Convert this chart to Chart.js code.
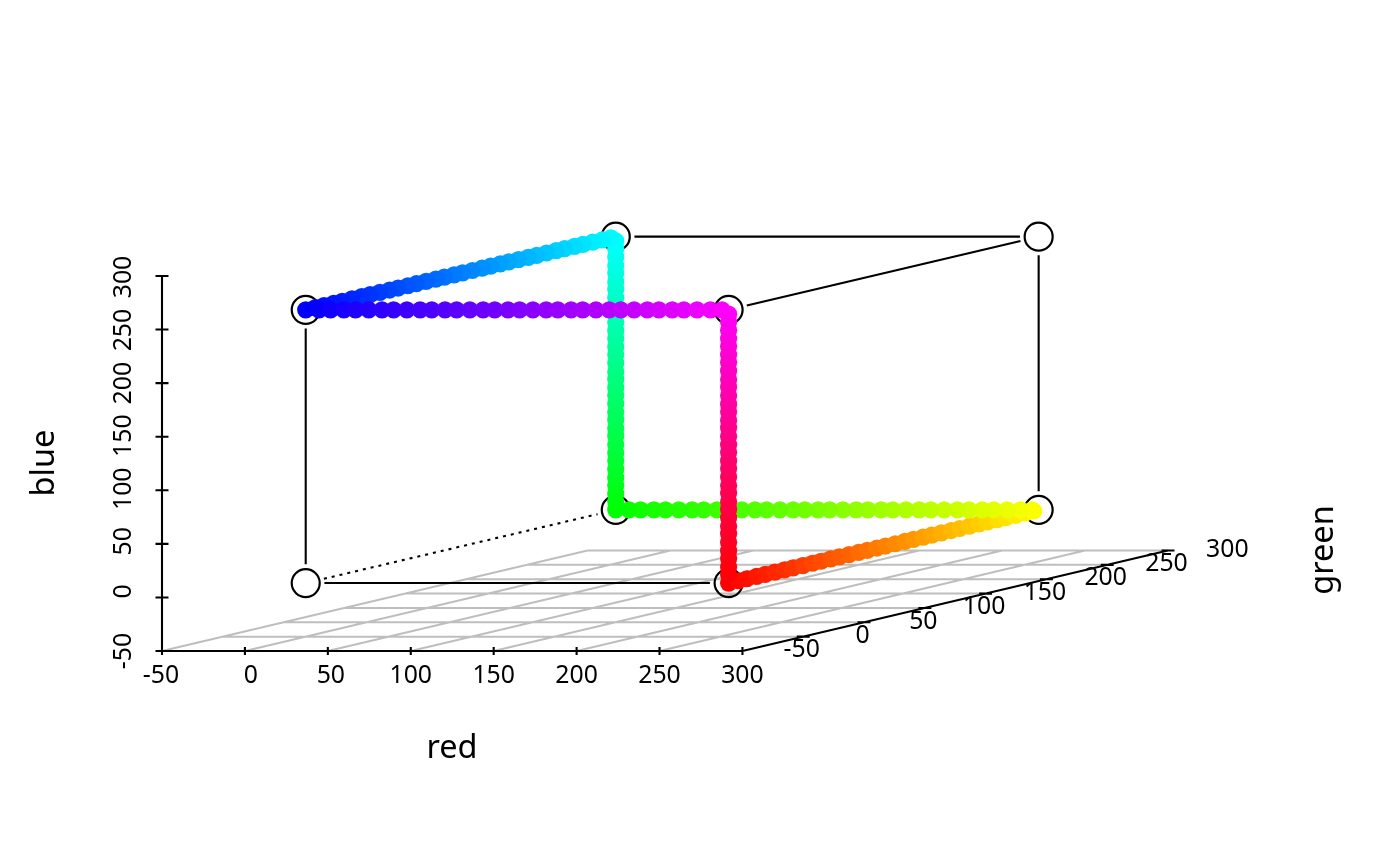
<!DOCTYPE html>
<html>
<head>
<meta charset="utf-8">
<title>rgb cube</title>
<script src="https://cdn.jsdelivr.net/npm/chart.js@4"></script>
<style>
  html, body { margin: 0; padding: 0; background: #fff; }
  canvas { display: block; }
</style>
</head>
<body>
<canvas id="cube" width="1400" height="866"></canvas>
<script>
// axis ticks and labels
const redTicks = [-50, 0, 50, 100, 150, 200, 250, 300];
const blueTicks = [-50, 0, 50, 100, 150, 200, 250, 300];
const greenTicks = [0, 50, 100, 150, 200, 250, 300];
const redLabels = ['-50', '0', '50', '100', '150', '200', '250', '300'];
const blueLabels = ['-50', '0', '50', '100', '150', '200', '250', '300'];
const greenLabels = ['-50', '0', '50', '100', '150', '200', '250', '300'];
// the green labels sit one step off their ticks, the last one has no tick
const greenLabelAt = [0, 50, 100, 150, 200, 250, 300, 350];

// cube corners
const cornerRed = [0, 255, 0, 255, 0, 255, 0, 255];
const cornerGreen = [0, 0, 255, 255, 0, 0, 255, 255];
const cornerBlue = [0, 0, 0, 0, 255, 255, 255, 255];
const solidEdges = [[0, 1], [0, 4], [6, 7], [5, 7], [3, 7]];
const dottedEdges = [[0, 2]];

// the rainbow path, 201 points
const pathRed = [
  255, 255, 255, 255, 255, 255, 255, 255, 255, 255,
  255, 255, 255, 255, 255, 255, 255, 255, 255, 255,
  255, 255, 255, 255, 255, 255, 255, 255, 255, 255,
  255, 255, 255, 255,
  251, 244, 236, 228, 221, 213, 206, 198, 190, 183,
  175, 167, 160, 152, 145, 137, 129, 122, 114, 107,
  99, 91, 84, 76, 69, 61, 53, 46, 38, 30,
  23, 15, 8,
  0, 0, 0, 0, 0, 0, 0, 0, 0, 0,
  0, 0, 0, 0, 0, 0, 0, 0, 0, 0,
  0, 0, 0, 0, 0, 0, 0, 0, 0, 0,
  0, 0, 0, 0, 0, 0, 0, 0, 0, 0,
  0, 0, 0, 0, 0, 0, 0, 0, 0, 0,
  0, 0, 0, 0, 0, 0, 0, 0, 0, 0,
  0, 0, 0, 0, 0, 0, 0, 0,
  8, 15, 23, 30, 38, 46, 53, 61, 69, 76,
  84, 91, 99, 107, 114, 122, 129, 137, 145, 152,
  160, 167, 175, 183, 190, 198, 206, 213, 221, 228,
  236, 244, 251,
  255, 255, 255, 255, 255, 255, 255, 255, 255, 255,
  255, 255, 255, 255, 255, 255, 255, 255, 255, 255,
  255, 255, 255, 255, 255, 255, 255, 255, 255, 255,
  255, 255, 255
];
const pathGreen = [
  0, 8, 15, 23, 30, 38, 46, 53, 61, 69,
  76, 84, 91, 99, 107, 114, 122, 129, 137, 145,
  152, 160, 167, 175, 183, 190, 198, 206, 213, 221,
  228, 236, 244, 251,
  255, 255, 255, 255, 255, 255, 255, 255, 255, 255,
  255, 255, 255, 255, 255, 255, 255, 255, 255, 255,
  255, 255, 255, 255, 255, 255, 255, 255, 255, 255,
  255, 255, 255, 255, 255, 255, 255, 255, 255, 255,
  255, 255, 255, 255, 255, 255, 255, 255, 255, 255,
  255, 255, 255, 255, 255, 255, 255, 255, 255, 255,
  255, 255, 255, 255, 255, 255, 255,
  251, 244, 236, 228, 221, 213, 206, 198, 190, 183,
  175, 167, 160, 152, 145, 137, 129, 122, 114, 107,
  99, 91, 84, 76, 69, 61, 53, 46, 38, 30,
  23, 15, 8,
  0, 0, 0, 0, 0, 0, 0, 0, 0, 0,
  0, 0, 0, 0, 0, 0, 0, 0, 0, 0,
  0, 0, 0, 0, 0, 0, 0, 0, 0, 0,
  0, 0, 0, 0, 0, 0, 0, 0, 0, 0,
  0, 0, 0, 0, 0, 0, 0, 0, 0, 0,
  0, 0, 0, 0, 0, 0, 0, 0, 0, 0,
  0, 0, 0, 0, 0, 0, 0
];
const pathBlue = [
  0, 0, 0, 0, 0, 0, 0, 0, 0, 0,
  0, 0, 0, 0, 0, 0, 0, 0, 0, 0,
  0, 0, 0, 0, 0, 0, 0, 0, 0, 0,
  0, 0, 0, 0, 0, 0, 0, 0, 0, 0,
  0, 0, 0, 0, 0, 0, 0, 0, 0, 0,
  0, 0, 0, 0, 0, 0, 0, 0, 0, 0,
  0, 0, 0, 0, 0, 0, 0, 0,
  8, 15, 23, 30, 38, 46, 53, 61, 69, 76,
  84, 91, 99, 107, 114, 122, 129, 137, 145, 152,
  160, 167, 175, 183, 190, 198, 206, 213, 221, 228,
  236, 244, 251,
  255, 255, 255, 255, 255, 255, 255, 255, 255, 255,
  255, 255, 255, 255, 255, 255, 255, 255, 255, 255,
  255, 255, 255, 255, 255, 255, 255, 255, 255, 255,
  255, 255, 255, 255, 255, 255, 255, 255, 255, 255,
  255, 255, 255, 255, 255, 255, 255, 255, 255, 255,
  255, 255, 255, 255, 255, 255, 255, 255, 255, 255,
  255, 255, 255, 255, 255, 255, 255,
  251, 244, 236, 228, 221, 213, 206, 198, 190, 183,
  175, 167, 160, 152, 145, 137, 129, 122, 114, 107,
  99, 91, 84, 76, 69, 61, 53, 46, 38, 30,
  23, 15, 8
];

// plot box on the page
const boxLeft = 162, boxRight = 1168, boxTop = 175.5, boxBottom = 651;
const pxRed = 1.6586, pxBlue = 1.0714;       // px per unit along red and blue
const shearX = 1.216 / pxRed, shearY = 0.2871 / pxBlue; // what green adds, in red/blue units
const low = -50, high = 300;

// oblique projection, green slides a point right and up
function project(r, g, b) {
  return { x: r + (g - low) * shearX, y: b + (g - low) * shearY };
}

// list of [from, to] pieces to one line with breaks
function pieces(list) {
  const out = [];
  list.forEach(p => {
    out.push(p[0], p[1], { x: NaN, y: NaN });
  });
  return out;
}

// corner to corner, stopping short of the circles
const edgeGap = 18.7;
function edge(pair) {
  const a = project(cornerRed[pair[0]], cornerGreen[pair[0]], cornerBlue[pair[0]]);
  const b = project(cornerRed[pair[1]], cornerGreen[pair[1]], cornerBlue[pair[1]]);
  const len = Math.hypot((b.x - a.x) * pxRed, (b.y - a.y) * pxBlue);
  const t = edgeGap / len;
  return [
    { x: a.x + (b.x - a.x) * t, y: a.y + (b.y - a.y) * t },
    { x: b.x - (b.x - a.x) * t, y: b.y - (b.y - a.y) * t }
  ];
}

const gridLines = pieces(
  redTicks.slice(0, -1).map(r => [project(r, low, low), project(r, high, low)])
    .concat(greenTicks.map(g => [project(low, g, low), project(high, g, low)]))
);

const axisLines = pieces(
  [[project(low, low, low), project(high, low, low)],
   [project(low, low, low), project(low, low, high)],
   [project(high, low, low), project(high, high, low)]]
    .concat(redTicks.map(r => {
      const p = project(r, low, low);
      return [{ x: p.x, y: p.y - 4 / pxBlue }, { x: p.x, y: p.y + 4 / pxBlue }];
    }))
    .concat(blueTicks.map(b => {
      const p = project(low, low, b);
      return [{ x: p.x - 6.5 / pxRed, y: p.y }, { x: p.x + 6.5 / pxRed, y: p.y }];
    }))
    .concat(greenTicks.map(g => {
      const p = project(high, g, low);
      return [{ x: p.x - 6.5 / pxRed, y: p.y }, { x: p.x + 6.5 / pxRed, y: p.y }];
    }))
);

const pathPoints = pathRed.map((r, i) => project(r, pathGreen[i], pathBlue[i]));
const pathColors = pathRed.map((r, i) => 'rgb(' + r + ',' + pathGreen[i] + ',' + pathBlue[i] + ')');
const cornerPoints = cornerRed.map((r, i) => project(r, cornerGreen[i], cornerBlue[i]));

function lineSet(data, color, width, dash, order) {
  return {
    data: data, showLine: true, spanGaps: false, pointRadius: 0,
    borderColor: color, borderWidth: width, borderDash: dash, order: order, clip: false
  };
}

// nudges of the printed labels against their ticks, in px
const redNudge = [-1, 6, 3, 0, 0, 0, 0, 0];
const blueNudge = [0, -6, -2.5, -1.5, -1, 0, 0.5, 1];
const font = '"Noto Sans", sans-serif';

const labelsPlugin = {
  id: 'cubeLabels',
  afterDraw(chart) {
    const ctx = chart.ctx;
    const sx = chart.scales.x, sy = chart.scales.y;
    ctx.save();
    ctx.fillStyle = '#000';
    ctx.textAlign = 'center';
    ctx.textBaseline = 'middle';
    ctx.font = '24.8px ' + font;

    const y0 = sy.getPixelForValue(low);
    redLabels.forEach((t, i) => {
      ctx.fillText(t, sx.getPixelForValue(redTicks[i]) + redNudge[i], y0 + 24.5);
    });
    greenLabels.forEach((t, i) => {
      const p = project(high, greenLabelAt[i], low);
      ctx.fillText(t, sx.getPixelForValue(p.x) - 1.5, sy.getPixelForValue(p.y) + 13.5);
    });
    blueLabels.forEach((t, i) => {
      ctx.save();
      ctx.translate(124, sy.getPixelForValue(blueTicks[i]) + blueNudge[i]);
      ctx.rotate(-Math.PI / 2);
      ctx.fillText(t, 0, 0);
      ctx.restore();
    });

    ctx.font = '32.5px ' + font;
    ctx.fillText('red', 452, 749);
    [['blue', 44.5, 463], ['green', 1324, 550]].forEach(a => {
      ctx.save();
      ctx.translate(a[1], a[2]);
      ctx.rotate(-Math.PI / 2);
      ctx.fillText(a[0], 0, 0);
      ctx.restore();
    });
    ctx.restore();
  }
};

new Chart(document.getElementById('cube'), {
  type: 'scatter',
  data: {
    datasets: [
      // lowest order ends up on top
      {
        data: pathPoints, pointRadius: 8.6, pointBorderWidth: 0,
        pointBackgroundColor: pathColors, order: 1, clip: false
      },
      {
        data: cornerPoints, pointRadius: 14, pointBorderWidth: 2.2,
        pointBorderColor: '#000', pointBackgroundColor: 'rgba(255,255,255,0)', order: 2, clip: false
      },
      lineSet(pieces(solidEdges.map(edge)), '#000', 2.1, [], 3),
      lineSet(pieces(dottedEdges.map(edge)), '#000', 2.1, [3, 5], 4),
      lineSet(axisLines, '#000', 2.1, [], 5),
      lineSet(gridLines, '#bebebe', 2, [], 6)
    ]
  },
  options: {
    responsive: false,
    animation: false,
    events: [],
    layout: {
      padding: { left: boxLeft, right: 1400 - boxRight, top: boxTop, bottom: 866 - boxBottom }
    },
    scales: {
      x: { type: 'linear', display: false, min: low, max: high + (high - low) * shearX },
      y: { type: 'linear', display: false, min: low, max: high + (high - low) * shearY }
    },
    plugins: { legend: { display: false }, tooltip: { enabled: false } }
  },
  plugins: [labelsPlugin]
});
</script>
</body>
</html>
